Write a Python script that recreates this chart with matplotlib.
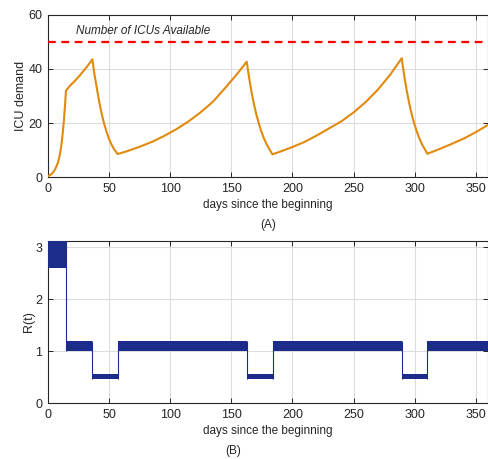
import matplotlib
matplotlib.use("Agg")
import matplotlib.pyplot as plt

# ── Data ───────────────────────────────────────────────────────────────────────
icu_days = [0, 2, 4, 6, 8, 9, 10, 11, 12, 13, 14, 14.7,
            18, 22, 26, 30, 33, 36.3,
            38, 40, 42, 44, 46, 48, 50, 52, 54, 57,
            65, 75, 85, 95, 105, 115, 125, 135, 145, 155, 162.6,
            164.5, 166.5, 168.5, 170.5, 172.5, 174.5, 176.5, 179, 183.6,
            190, 200, 210, 220, 230, 240, 250, 260, 270, 280, 289.4,
            291.5, 293.5, 295.5, 297.5, 299.5, 301.5, 303.5, 306, 310.4,
            320, 330, 340, 350, 360]
icu_demand = [0.3, 0.8, 1.6, 3.0, 5.2, 6.8, 9.0, 12.0, 16.0, 21.0, 27.0, 32.0,
              33.8, 35.6, 37.6, 39.8, 41.5, 43.6,
              38.0, 32.8, 27.6, 23.3, 19.6, 16.6, 14.0, 12.0, 10.3, 8.5,
              9.6, 11.2, 13.0, 15.2, 17.7, 20.6, 24.0, 27.9, 33.0, 38.3, 42.7,
              36.9, 31.5, 27.0, 23.1, 19.8, 16.9, 14.5, 12.0, 8.4,
              9.4, 11.1, 13.0, 15.4, 18.0, 20.6, 23.9, 27.8, 32.4, 37.9, 44.0,
              37.4, 32.0, 27.4, 23.4, 20.0, 17.2, 14.7, 12.1, 8.6,
              10.3, 12.2, 14.2, 16.6, 19.3]
icu_capacity = 50

# R(t) is a noisy band; keep its switch days and band limits per phase
r_switch_days = [0, 14.7, 35.7, 57.0, 162.6, 183.8, 289.4, 310.4, 360]
r_low = [2.60, 1.00, 0.46, 1.00, 0.46, 1.00, 0.46, 1.00]
r_high = [3.15, 1.20, 0.56, 1.20, 0.56, 1.20, 0.56, 1.20]

x_ticks = [0, 50, 100, 150, 200, 250, 300, 350]

# ── Style (MATLAB-like) ────────────────────────────────────────────────────────
TXT = "#262626"
plt.rcParams["font.family"] = ["Liberation Sans", "DejaVu Sans"]
plt.rcParams["font.size"] = 8.5
plt.rcParams["text.color"] = TXT
plt.rcParams["axes.labelcolor"] = TXT
plt.rcParams["xtick.color"] = TXT
plt.rcParams["ytick.color"] = TXT

ORANGE = "#E08A0E"
NAVY = "#1B2C8A"

W, H = 489, 459
fig = plt.figure(figsize=(W / 100, H / 100), dpi=100)


def px_axes(left, top, right, bottom):
    return fig.add_axes([left / W, 1 - bottom / H, (right - left) / W, (bottom - top) / H])


def style(ax):
    ax.set_xlim(0, 360)
    ax.set_xticks(x_ticks)
    ax.tick_params(direction="in", top=True, right=True, length=3.5, width=0.7,
                   labelsize=9, pad=4)
    ax.grid(True, color="#dcdcdc", linewidth=0.8)
    ax.set_axisbelow(True)
    for s in ax.spines.values():
        s.set_color(TXT)
        s.set_linewidth(0.8)
    ax.set_xlabel("days since the beginning", fontsize=8.5, labelpad=3)


# ── (A) ICU demand ────────────────────────────────────────────────────────────
ax1 = px_axes(48, 15, 488, 177)
style(ax1)
ax1.plot(icu_days, icu_demand, color=ORANGE, linewidth=1.5, zorder=3)
ax1.axhline(icu_capacity, color="red", linestyle=(0, (3.5, 2.5)), linewidth=1.6, zorder=3)
ax1.text(23, 54, "Number of ICUs Available", fontstyle="italic", fontsize=8.5,
         va="center", ha="left")
ax1.set_ylim(0, 60)
ax1.set_yticks([0, 20, 40, 60])
ax1.set_ylabel("ICU demand", fontsize=9, labelpad=1)
fig.text(268 / W, 1 - 225 / H, "(A)", ha="center", va="center", fontsize=8.5)

# ── (B) R(t) ──────────────────────────────────────────────────────────────────
ax2 = px_axes(48, 241, 488, 403)
style(ax2)
ax2.fill_between(r_switch_days, r_low + [r_low[-1]], r_high + [r_high[-1]],
                 step="post", color=NAVY, linewidth=0, zorder=3)
# thin vertical jumps between consecutive phases
for i in range(1, len(r_low)):
    lo = min(r_low[i - 1], r_low[i])
    hi = max(r_high[i - 1], r_high[i])
    ax2.vlines(r_switch_days[i], lo, hi, color=NAVY, linewidth=0.8, zorder=3)
ax2.set_ylim(0, 3.12)
ax2.set_yticks([0, 1, 2, 3])
ax2.set_ylabel("R(t)", fontsize=9, labelpad=0)
fig.text(233 / W, 1 - 451 / H, "(B)", ha="center", va="center", fontsize=8.5)

fig.savefig("out.png", dpi=100)
